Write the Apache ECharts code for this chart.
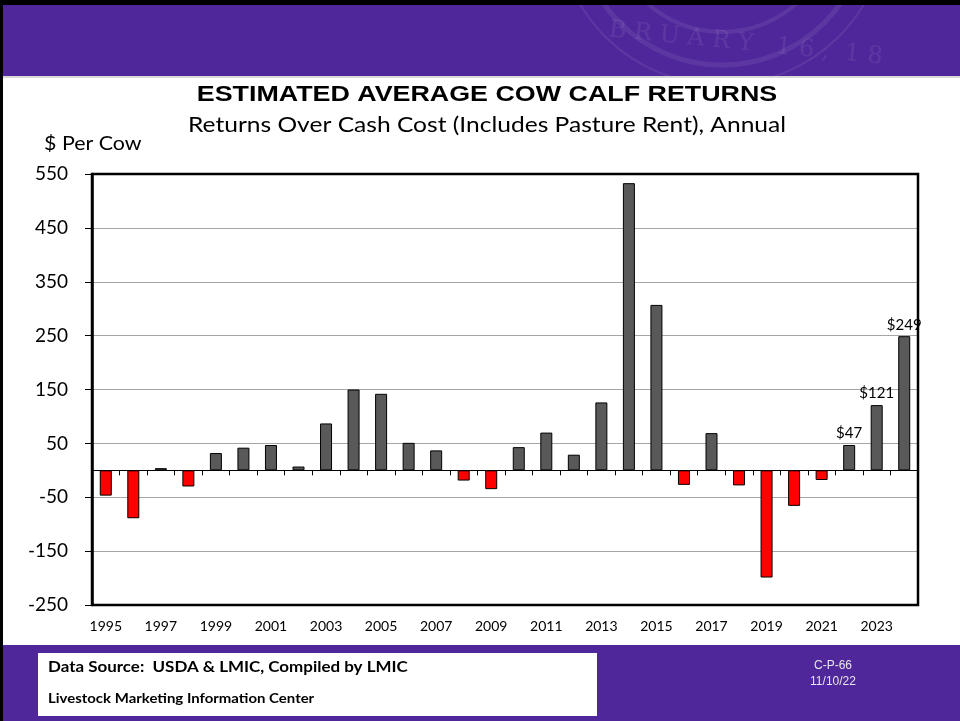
<!DOCTYPE html>
<html>
<head>
<meta charset="utf-8">
<script src="https://cdn.jsdelivr.net/npm/echarts@6/dist/echarts.min.js"></script>
<style>
  html, body { margin: 0; padding: 0; background: #fff; }
  #chart { width: 960px; height: 721px; }
</style>
</head>
<body>
<div id="chart"></div>
<script>
// years on the x axis
const years = ['1995', '1996', '1997', '1998', '1999', '2000', '2001', '2002', '2003', '2004',
  '2005', '2006', '2007', '2008', '2009', '2010', '2011', '2012', '2013', '2014',
  '2015', '2016', '2017', '2018', '2019', '2020', '2021', '2022', '2023', '2024'];

// returns over cash cost, $ per cow
const returns = [-47, -89, 4, -30, 32, 42, 47, 7, 87, 150,
  142, 51, 37, -19, -35, 43, 70, 29, 126, 533,
  307, -27, 69, -28, -199, -66, -18, 47, 121, 249];

// only these bars carry a value label
const labeledYears = ['2022', '2023', '2024'];

const purple = '#50279A';
const font = 'Lato, "Open Sans", sans-serif';

const chart = echarts.init(document.getElementById('chart'));

// build bar items, red for losses
const barData = returns.map((v, i) => {
  const item = {
    value: v,
    itemStyle: { color: v < 0 ? '#FF0000' : '#595959' }
  };
  if (labeledYears.includes(years[i])) {
    item.label = {
      show: true,
      position: 'top',
      distance: 4,
      formatter: '${c}',
      fontFamily: font,
      fontSize: 15,
      color: '#000'
    };
  }
  return item;
});

const option = {
  backgroundColor: '#fff',
  animation: false,
  graphic: [
    // header band + faint seal
    { type: 'rect', z: 0, shape: { x: 0, y: 0, width: 960, height: 77 }, style: { fill: purple } },
    { type: 'circle', z: 0, shape: { cx: 722, cy: -80, r: 165 }, style: { fill: 'none', stroke: 'rgba(255,255,255,0.08)', lineWidth: 2 } },
    { type: 'circle', z: 0, shape: { cx: 722, cy: -80, r: 145 }, style: { fill: 'none', stroke: 'rgba(255,255,255,0.08)', lineWidth: 5 } },
    { type: 'circle', z: 0, shape: { cx: 722, cy: -80, r: 112 }, style: { fill: 'none', stroke: 'rgba(255,255,255,0.08)', lineWidth: 4 } },
    { type: 'text', z: 0, x: 610, y: 18, rotation: -0.1,
      style: { text: 'B R U A R Y   1 6 ,  1 8', fill: 'rgba(255,255,255,0.08)', font: '24px "DejaVu Serif", serif' } },
    { type: 'rect', z: 1, shape: { x: 0, y: 77, width: 960, height: 568 }, style: { fill: '#fff' } },
    { type: 'rect', z: 1, shape: { x: 0, y: 76, width: 960, height: 2 }, style: { fill: '#d8d8d8' } },
    { type: 'rect', z: 1, shape: { x: 0, y: 0, width: 960, height: 5 }, style: { fill: '#000' } },
    // footer band
    { type: 'rect', z: 1, shape: { x: 0, y: 645, width: 960, height: 76 }, style: { fill: purple } },
    { type: 'rect', z: 1, shape: { x: 0, y: 0, width: 3, height: 721 }, style: { fill: '#000' } },
    { type: 'rect', z: 2, shape: { x: 38, y: 653, width: 559, height: 63 }, style: { fill: '#fff' } },
    { type: 'text', z: 3, x: 48, y: 660, scaleX: 1.13,
      style: { text: 'Data Source:  USDA & LMIC, Compiled by LMIC', fill: '#000', font: 'bold 15px ' + font } },
    { type: 'text', z: 3, x: 48, y: 692, scaleX: 1.15,
      style: { text: 'Livestock Marketing Information Center', fill: '#000', font: 'bold 13px ' + font } },
    { type: 'text', z: 3, x: 833, y: 660,
      style: { text: 'C-P-66', fill: '#e6e6e6', font: '12px "Liberation Sans Narrow", "Liberation Sans", sans-serif', align: 'center' } },
    { type: 'text', z: 3, x: 833, y: 676,
      style: { text: '11/10/22', fill: '#e6e6e6', font: '12px "Liberation Sans Narrow", "Liberation Sans", sans-serif', align: 'center' } },
    // titles
    { type: 'text', z: 3, x: 487, y: 84, scaleX: 1.22,
      style: { text: 'ESTIMATED AVERAGE COW CALF RETURNS', fill: '#000', font: 'bold 22px "Liberation Sans", Arial, sans-serif', align: 'center' } },
    { type: 'text', z: 3, x: 487, y: 115, scaleX: 1.17,
      style: { text: 'Returns Over Cash Cost (Includes Pasture Rent), Annual', fill: '#000', font: '21px ' + font, align: 'center' } },
    { type: 'text', z: 3, x: 44, y: 134, scaleX: 1.07,
      style: { text: '$ Per Cow', fill: '#000', font: '20px ' + font } }
  ],
  grid: {
    left: 92, right: 42, top: 174, bottom: 116,
    show: true,
    borderColor: '#000',
    borderWidth: 2.5,
    backgroundColor: 'transparent',
    z: 5
  },
  xAxis: [
    {
      type: 'category',
      data: years,
      position: 'bottom',
      z: 4,
      axisLine: { show: false, onZero: false },
      axisTick: { show: false },
      axisLabel: {
        interval: 1,
        margin: 14,
        fontFamily: font,
        fontSize: 14,
        color: '#000'
      },
      splitLine: { show: false }
    },
    {
      type: 'category',
      data: years,
      position: 'bottom',
      z: 4,
      axisLine: { show: true, onZero: true, lineStyle: { color: '#000', width: 1 } },
      axisTick: { show: true, length: 5, interval: 0, lineStyle: { color: '#000' } },
      axisLabel: { show: false },
      splitLine: { show: false }
    }
  ],
  yAxis: {
    type: 'value',
    min: -250,
    max: 550,
    interval: 100,
    z: 4,
    axisLine: { show: true, lineStyle: { color: '#000', width: 2.5 } },
    axisTick: { show: true, length: 7, lineStyle: { color: '#000' } },
    axisLabel: {
      margin: 24,
      fontFamily: font,
      fontSize: 19,
      color: '#000'
    },
    splitLine: { show: true, lineStyle: { color: '#A6A6A6', width: 1 } }
  },
  series: [
    {
      type: 'bar',
      xAxisIndex: 0,
      z: 6,
      data: barData,
      barWidth: 12,
      itemStyle: { borderColor: '#000', borderWidth: 1 }
    }
  ]
};

chart.setOption(option);
</script>
</body>
</html>
